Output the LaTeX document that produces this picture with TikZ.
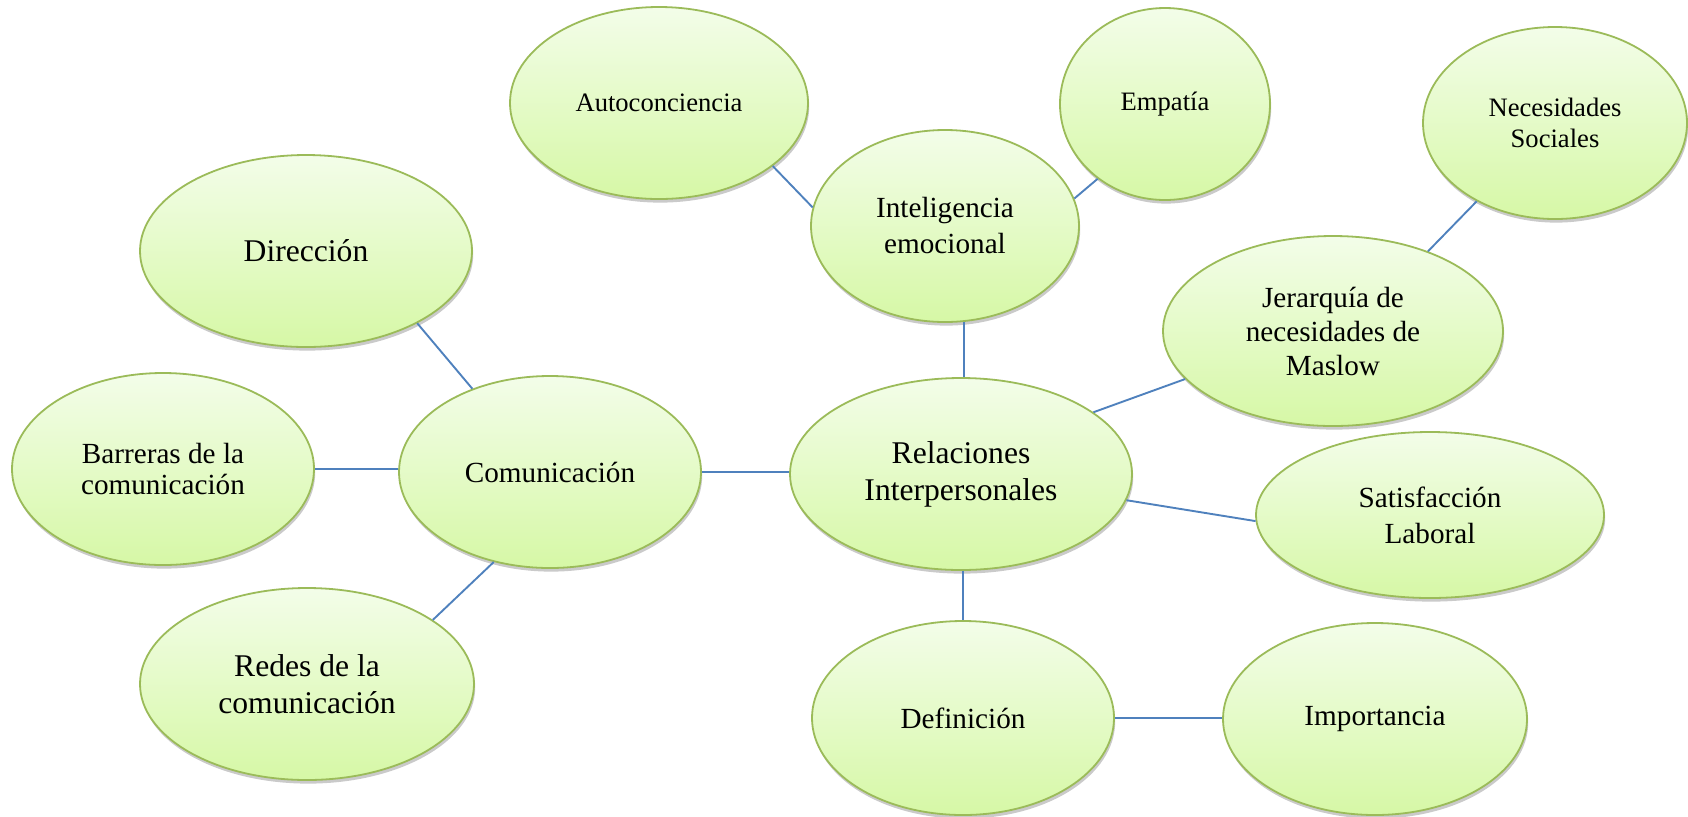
\documentclass[tikz,border=0pt]{standalone}
\usepackage{fontspec}
\setmainfont{Liberation Serif}
\usepackage{xcolor}
\usepackage{tikz}
\usetikzlibrary{shapes.geometric,shadows}
\definecolor{bubline}{HTML}{9BBB59}
\definecolor{bubtop}{HTML}{F3FDE9}
\definecolor{bubbot}{HTML}{D6F8A6}
\definecolor{link}{HTML}{4F81BD}

\begin{document}
\begin{tikzpicture}[x=0.5pt, y=-0.5pt,
  bub/.style={ellipse, draw=bubline, line width=0.9pt, top color=bubtop, bottom color=bubbot, inner sep=0pt, align=center,
    drop shadow={shadow xshift=0.6pt, shadow yshift=-1.8pt, opacity=0.35, fill=black!60}},
  fs/.style={font=\fontsize{13.3}{15.5}\selectfont},
  fm/.style={font=\fontsize{14.6}{18}\selectfont},
  fl/.style={font=\fontsize{15.8}{18.6}\selectfont},
  ln/.style={draw=link, line width=0.95pt}]
\useasboundingbox (0,0) rectangle (1688,816);
% outer ring
\node[bub, fs, minimum width=149pt, minimum height=96pt] (auto) at (659,103) {Autoconciencia};
\node[bub, fs, minimum width=105pt, minimum height=96pt] (emp) at (1165,104) {Empatía};
\node[bub, fs, minimum width=132pt, minimum height=96pt] (nec) at (1555,123) {Necesidades\\Sociales};
\node[bub, fm, minimum width=134pt, minimum height=96pt] (intel) at (945,226) {Inteligencia\\emocional};
\node[bub, fl, minimum width=166pt, minimum height=96pt] (dir) at (306,251) {Dirección};
\node[bub, font=\fontsize{14.6}{17}\selectfont, minimum width=170pt, minimum height=95pt] (jer) at (1333,331) {Jerarquía de\\necesidades de\\Maslow};
\node[bub, font=\fontsize{14.6}{15.5}\selectfont, minimum width=151pt, minimum height=96pt] (barr) at (163,469) {Barreras de la\\comunicación};
\node[bub, fm, minimum width=151pt, minimum height=96pt] (com) at (550,472) {Comunicación};
\node[bub, fl, minimum width=171pt, minimum height=96pt] (rel) at (961,474) {Relaciones\\Interpersonales};
\node[bub, fm, minimum width=174pt, minimum height=83pt] (sat) at (1430,515) {Satisfacción\\Laboral};
\node[bub, fl, minimum width=167pt, minimum height=96pt] (redes) at (307,684) {Redes de la\\comunicación};
\node[bub, fm, minimum width=151pt, minimum height=97pt] (def) at (963,718) {Definición};
\node[bub, fm, minimum width=152pt, minimum height=96pt] (imp) at (1375,719) {Importancia};
% links
\draw[ln] (auto.-29) -- (intel.172);
\draw[ln] (emp.228) -- (intel.12);
\draw[ln] (nec.225) -- (jer.40);
\draw[ln] (intel.-79) -- (intel.-79 |- rel.north);
\draw[ln] (jer.198) -- (rel.25);
\draw[ln] (rel.-9) -- (sat.182);
\draw[ln] (def.north |- rel.south) -- (def.north);
\draw[ln] (def.east) -- (def.east -| imp.west);
\draw[ln] (com.east) -- (com.east -| rel.west);
\draw[ln] (dir.-33) -- (com.133);
\draw[ln] (barr.east) -- (barr.east -| com.west);
\draw[ln] (redes.27) -- (com.238);
\end{tikzpicture}
\end{document}
